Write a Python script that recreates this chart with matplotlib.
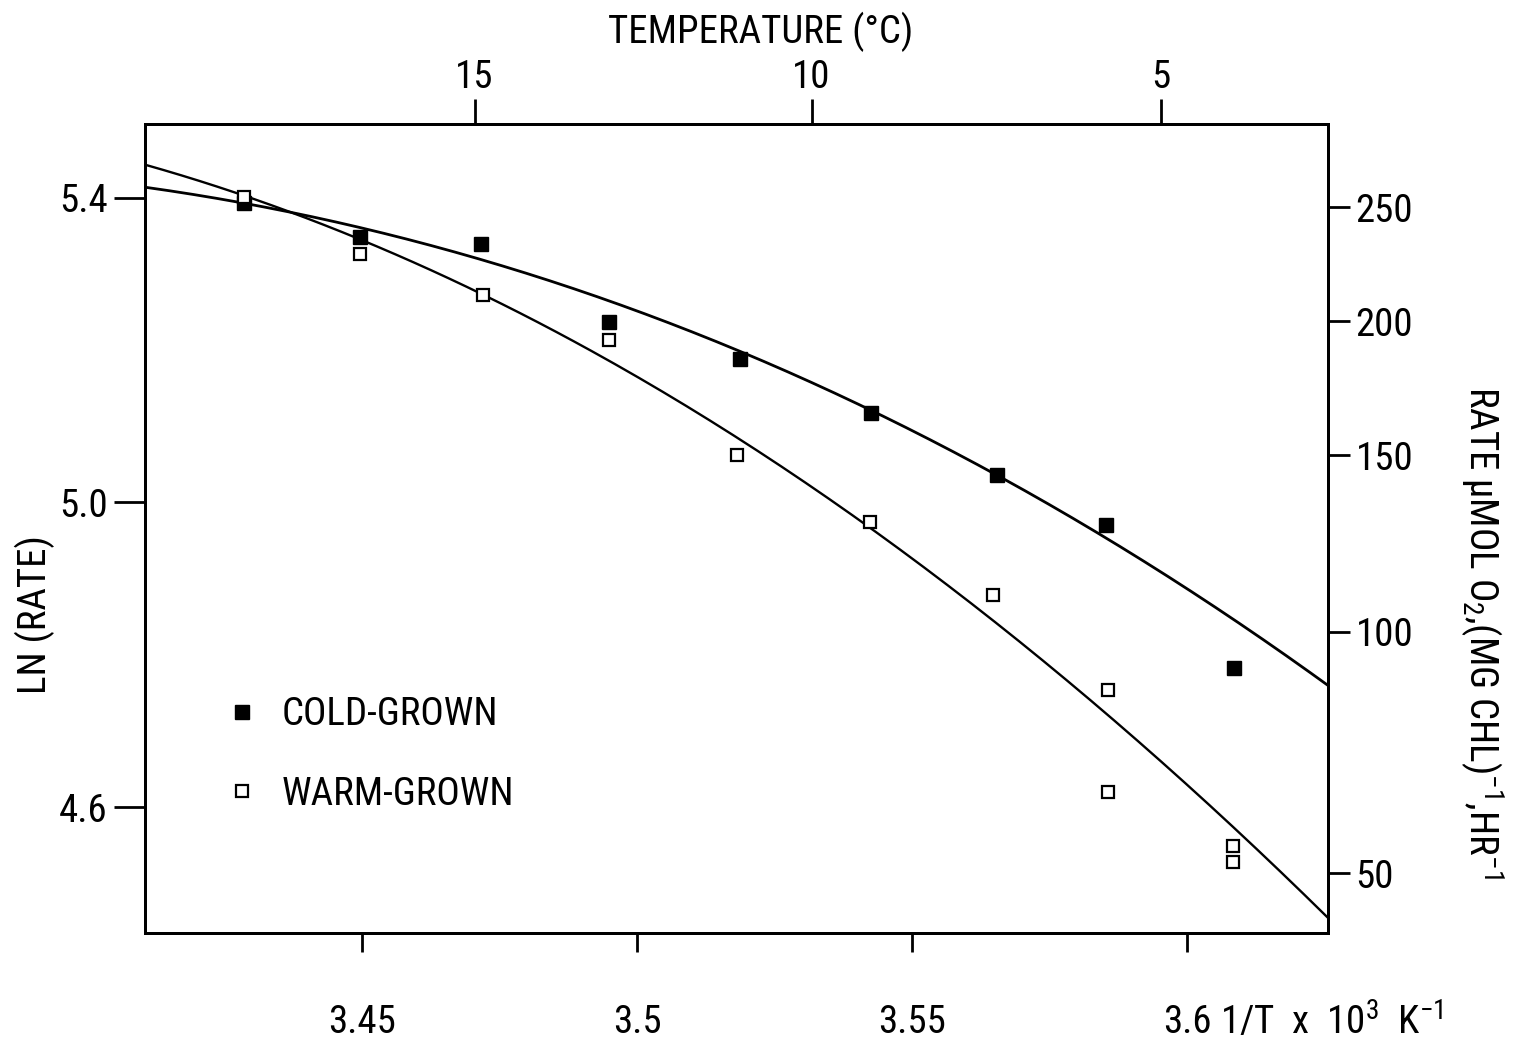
import matplotlib
matplotlib.use("Agg")
import numpy as np
import matplotlib.pyplot as plt
from matplotlib import font_manager

# 1/T x 10^3 (K^-1) against ln(rate) for the two growth regimes
cold_inv_t = [3.4285, 3.4495, 3.4716, 3.4949, 3.5187, 3.5425, 3.5655, 3.5853, 3.6085]
cold_ln_rate = [5.393, 5.349, 5.340, 5.237, 5.189, 5.118, 5.036, 4.970, 4.783]

warm_inv_t = [3.4285, 3.4496, 3.4720, 3.4949, 3.5182, 3.5424, 3.5647, 3.5856, 3.5856, 3.6084, 3.6084]
warm_ln_rate = [5.401, 5.326, 5.273, 5.213, 5.062, 4.974, 4.878, 4.754, 4.620, 4.549, 4.528]

# points
cold_fit_x = [3.4106, 3.4296, 3.4493, 3.4716, 3.4949, 3.5187, 3.5425, 3.5655, 3.5806, 3.6047, 3.6256]
cold_fit_y = [5.414, 5.391, 5.361, 5.321, 5.266, 5.195, 5.119, 5.040, 4.973, 4.863, 4.760]
warm_fit_x = [3.4106, 3.4351, 3.4496, 3.4642, 3.4949, 3.5182, 3.5424, 3.5647, 3.5806, 3.6096, 3.6256]
warm_fit_y = [5.446, 5.382, 5.342, 5.303, 5.191, 5.082, 4.964, 4.846, 4.755, 4.559, 4.458]

inv_t_ticks = [3.45, 3.5, 3.55, 3.6]
inv_t_labels = ["3.45", "3.5", "3.55", "3.6"]
temp_ticks_c = [15, 10, 5]
ln_ticks = [4.6, 5.0, 5.4]
ln_labels = ["4.6", "5.0", "5.4"]
rate_labels = ["250", "200", "150", "100", "50"]
rate_tick_pos = [5.388, 5.238, 5.062, 4.830, 4.513]

# pick a narrow face if one is installed
fonts = font_manager.fontManager.ttflist
names = {f.name for f in fonts}
narrow = None
for cand in ["Liberation Sans Narrow", "DejaVu Sans Condensed", "Roboto Condensed",
             "Open Sans Condensed", "Noto Sans Condensed"]:
    if cand in names:
        narrow = cand
        break
FS = 28
if narrow:
    plt.rcParams["font.family"] = [narrow, "DejaVu Sans"]
    plt.rcParams["mathtext.fontset"] = "custom"
    plt.rcParams["mathtext.rm"] = narrow
    plt.rcParams["mathtext.it"] = narrow
elif any(f.name == "DejaVu Sans" and "condensed" in str(f.stretch) for f in fonts):
    plt.rcParams["font.family"] = ["DejaVu Sans"]
    plt.rcParams["font.stretch"] = "condensed"
    FS = 26
else:
    plt.rcParams["font.family"] = ["DejaVu Sans"]
    FS = 22

fig = plt.figure(figsize=(15.14, 10.44), dpi=100)
ax = fig.add_axes([0.0958, 0.1063, 0.7813, 0.7749])

# smooth the curves with a cubic through the read points
xs = np.linspace(3.4106, 3.6256, 200)
cold_curve = np.polyval(np.polyfit(cold_fit_x, cold_fit_y, 3), xs)
warm_curve = np.polyval(np.polyfit(warm_fit_x, warm_fit_y, 3), xs)
ax.plot(xs, cold_curve, color="black", lw=2.0)
ax.plot(xs, warm_curve, color="black", lw=1.7)

ax.plot(cold_inv_t, cold_ln_rate, ls="none", marker="s", ms=10.5,
        mfc="black", mec="black", mew=1, label="COLD-GROWN")
ax.plot(warm_inv_t, warm_ln_rate, ls="none", marker="s", ms=9.2,
        mfc="white", mec="black", mew=1.6, label="WARM-GROWN")

xlim = (3.4105, 3.6256)
ylim = (4.4345, 5.497)
ax.set_xlim(*xlim)
ax.set_ylim(*ylim)

ax.set_xticks(inv_t_ticks)
ax.set_xticklabels(inv_t_labels)
ax.set_yticks(ln_ticks)
ax.set_yticklabels(ln_labels)
ax.tick_params(axis="x", direction="out", length=14, width=2, pad=37, labelsize=FS)
ax.tick_params(axis="y", direction="out", length=22, width=2, pad=5, labelsize=FS)

# temperature scale along the top
ax_top = ax.twiny()
ax_top.set_xlim(*xlim)
ax_top.set_xticks([1000.0 / (t + 273.15) for t in temp_ticks_c])
ax_top.set_xticklabels([str(t) for t in temp_ticks_c])
ax_top.tick_params(axis="x", direction="out", length=18, width=2, pad=2, labelsize=FS)

# absolute rate scale on the right
ax_r = ax.twinx()
ax_r.set_ylim(*ylim)
ax_r.set_yticks(rate_tick_pos)
ax_r.set_yticklabels(rate_labels)
ax_r.tick_params(axis="y", direction="out", length=16, width=2, pad=4, labelsize=FS)
for a in (ax, ax_top, ax_r):
    for s in a.spines.values():
        s.set_linewidth(2.0)

fig.text(0.5026, 0.969, "TEMPERATURE (°C)", ha="center", va="center", fontsize=FS)
fig.text(0.0231, 0.411, "LN (RATE)", ha="center", va="center", rotation=90, fontsize=FS)
fig.text(0.978, 0.394, r"RATE µMOL O$_2$,(MG CHL)$^{-1}$,HR$^{-1}$",
         ha="center", va="center", rotation=270, fontsize=FS)
fig.text(1220 / 1514, 1 - 1022 / 1044, r"1/T  x  10$^3$  K$^{-1}$",
         ha="left", va="center", fontsize=FS)

ax.legend(loc="center left", bbox_to_anchor=(0.069, 0.2206), frameon=False,
          fontsize=FS, handlelength=0.8, handletextpad=0.62, labelspacing=1.1,
          borderpad=0, borderaxespad=0, numpoints=1)

fig.savefig("out.png", dpi=100, facecolor="white")
